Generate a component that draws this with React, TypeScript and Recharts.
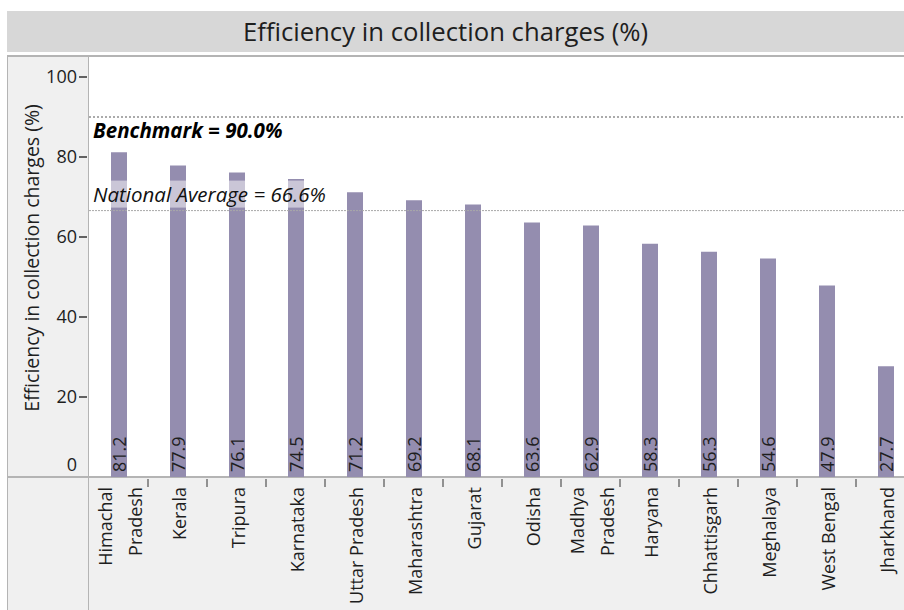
import React from "react";
import { BarChart, Bar, XAxis, YAxis, ReferenceLine, LabelList } from "recharts";

const states = [
  "Himachal Pradesh", "Kerala", "Tripura", "Karnataka", "Uttar Pradesh", "Maharashtra", "Gujarat",
  "Odisha", "Madhya Pradesh", "Haryana", "Chhattisgarh", "Meghalaya", "West Bengal", "Jharkhand",
];
const tickLabels = [
  ["Himachal", "Pradesh"], ["Kerala"], ["Tripura"], ["Karnataka"], ["Uttar Pradesh"], ["Maharashtra"], ["Gujarat"],
  ["Odisha"], ["Madhya", "Pradesh"], ["Haryana"], ["Chhattisgarh"], ["Meghalaya"], ["West Bengal"], ["Jharkhand"],
];
const efficiency = [81.2, 77.9, 76.1, 74.5, 71.2, 69.2, 68.1, 63.6, 62.9, 58.3, 56.3, 54.6, 47.9, 27.7];
const yTicks = [0, 20, 40, 60, 80, 100];
const benchmark = 90.0;
const nationalAverage = 66.6;

const data = states.map((name, i) => ({ name, value: efficiency[i] }));

const FONT = "'Segoe UI', 'Open Sans', 'Noto Sans', sans-serif";
const TEXT = "#1e1e1e";
const BAR = "#948daf";
const PANEL = "#f0f0f0";
const BORDER = "#b4b4b4";

const XTick = (props: any) => {
  const { x, y, payload, index } = props;
  const lines: string[] = tickLabels[index] || [payload.value];
  const n = lines.length;
  const top = y + 2;
  return (
    <g>
      <line x1={x + 29.5} x2={x + 29.5} y1={y - 6} y2={y + 2} stroke="#333" strokeWidth={1} />
      {lines.map((ln, i) => (
        <text
          key={i}
          x={0}
          y={0}
          transform={`translate(${x + 8 + (i - (n - 1) / 2) * 30},${top}) rotate(-90)`}
          textAnchor="end"
          fontSize={18}
          fontFamily={FONT}
          fill={TEXT}
        >
          {ln}
        </text>
      ))}
    </g>
  );
};

const YTick = (props: any) => {
  const { x, y, payload } = props;
  const isZero = payload.value === 0;
  const ty = isZero ? y - 12 : y;
  return (
    <g>
      {!isZero && <line x1={x - 2} x2={x + 6} y1={y} y2={y} stroke="#333" strokeWidth={1.5} />}
      <text x={x - 4} y={ty} dy="0.35em" textAnchor="end" fontSize={18} fontFamily={FONT} fill={TEXT}>
        {payload.value}
      </text>
    </g>
  );
};

const ValueLabel = (props: any) => {
  const { x, y, width, height, value } = props;
  const cx = x + width / 2;
  const by = y + height - 5;
  return (
    <text
      x={0}
      y={0}
      transform={`translate(${cx + 7},${by}) rotate(-90)`}
      textAnchor="start"
      fontSize={18}
      fontFamily={FONT}
      fill={TEXT}
    >
      {Number(value).toFixed(1)}
    </text>
  );
};

const BenchLabel = (props: any) => {
  const { viewBox } = props;
  return (
    <text x={viewBox.x + 4} y={viewBox.y + 21} fontSize={20.5} fontWeight="bold" fontStyle="italic" fontFamily={FONT} fill="#000">
      {`Benchmark = ${benchmark.toFixed(1)}%`}
    </text>
  );
};

const AvgLabel = (props: any) => {
  const { viewBox } = props;
  return (
    <g>
      <rect x={viewBox.x + 2} y={viewBox.y - 30} width={236} height={27} fill="#ffffff" fillOpacity={0.5} />
      <text x={viewBox.x + 4} y={viewBox.y - 9} fontSize={20.5} fontStyle="italic" fontFamily={FONT} fill="#111">
        {`National Average = ${nationalAverage.toFixed(1)}%`}
      </text>
    </g>
  );
};

const YTitle = () => (
  <text
    x={0}
    y={0}
    transform="translate(31,258) rotate(-90)"
    textAnchor="middle"
    dominantBaseline="central"
    fontSize={19.5}
    fontFamily={FONT}
    fill={TEXT}
  >
    Efficiency in collection charges (%)
  </text>
);

export default function App() {
  return (
    <div style={{ position: "absolute", left: 0, top: 0, width: 904, height: 610, overflow: "hidden", background: "#fff" }}>
      <div style={{ position: "absolute", left: 7, top: 11, width: 897, height: 41, background: "#d7d7d7" }} />
      <div
        style={{
          position: "absolute", left: 7, top: 11, width: 877, height: 41,
          display: "flex", alignItems: "center", justifyContent: "center",
          fontFamily: FONT, fontSize: 25.7, color: TEXT, whiteSpace: "nowrap",
        }}
      >
        Efficiency in collection charges (%)
      </div>
      <div style={{ position: "absolute", left: 7, top: 55, width: 897, height: 2, background: BORDER }} />
      <div style={{ position: "absolute", left: 7, top: 57, width: 81, height: 553, background: PANEL }} />
      <div style={{ position: "absolute", left: 7, top: 477, width: 897, height: 133, background: PANEL }} />
      <div style={{ position: "absolute", left: 7, top: 57, width: 1, height: 553, background: BORDER }} />
      <div style={{ position: "absolute", left: 88, top: 57, width: 1, height: 553, background: BORDER }} />
      <div style={{ position: "absolute", left: 7, top: 476, width: 897, height: 2, background: BORDER }} />
      <div style={{ position: "absolute", left: 0, top: 0 }}>
        <BarChart
          width={915}
          height={610}
          data={data}
          margin={{ top: 57, right: 0, bottom: 0, left: 0 }}
          style={{ background: "transparent" }}
        >
          <XAxis
            dataKey="name"
            type="category"
            height={133}
            interval={0}
            tickLine={false}
            axisLine={false}
            tick={<XTick />}
          />
          <YAxis
            type="number"
            domain={[0, 105]}
            ticks={yTicks}
            width={89}
            tickLine={false}
            axisLine={false}
            tick={<YTick />}
            label={<YTitle />}
          />
          <Bar dataKey="value" barSize={16} fill={BAR} isAnimationActive={false}>
            <LabelList dataKey="value" content={<ValueLabel />} />
          </Bar>
          <ReferenceLine y={benchmark} stroke="#ababab" strokeWidth={2} strokeDasharray="2 2" label={<BenchLabel />} />
          <ReferenceLine y={nationalAverage} stroke="#a8a8a8" strokeWidth={1} strokeDasharray="2 1" label={<AvgLabel />} />
        </BarChart>
      </div>
    </div>
  );
}
